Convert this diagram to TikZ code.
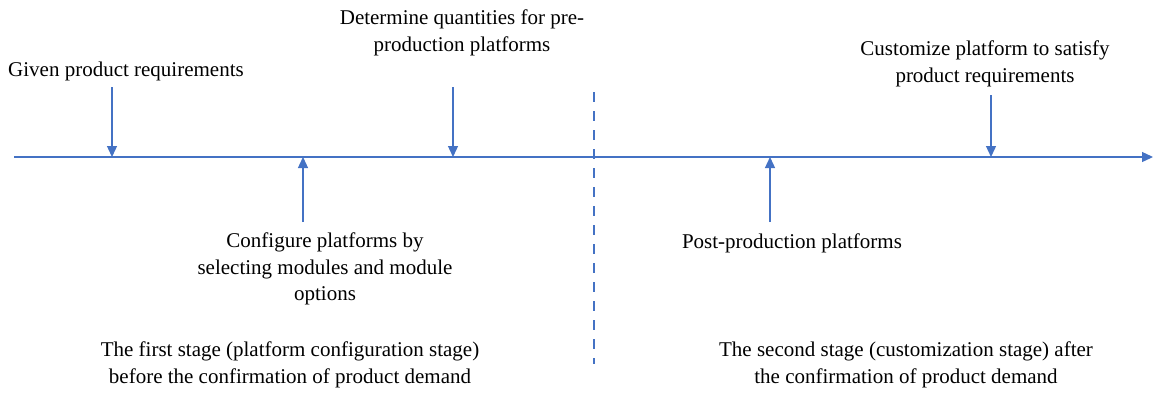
\documentclass[tikz,border=0pt]{standalone}
\usepackage{fontspec}
\setmainfont{Liberation Serif}
\usetikzlibrary{arrows.meta}
\definecolor{lineblue}{HTML}{4472C4}
\begin{document}
\begin{tikzpicture}[x=1pt,y=-1pt,
  axisline/.style={draw=lineblue, line width=1.3pt, -{Triangle[length=11pt,width=10pt]}},
  marker/.style={draw=lineblue, line width=1.3pt, -{Triangle[length=11pt,width=10pt]}},
  divider/.style={draw=lineblue, line width=2.6pt, dash pattern=on 10pt off 9pt},
  label/.style={font=\fontsize{21}{26.5}\selectfont, align=center, inner sep=0pt, text=black}]
\useasboundingbox (0,0) rectangle (1155,392);

% timeline
\coordinate (t0) at (14,157);
\coordinate (t1) at (1153,157);
\draw[axisline] (t0) -- (t1);

% stage divider
\coordinate (d0) at (594,92);
\coordinate (d1) at (594,364);
\draw[divider] (d0) -- (d1);

% event markers
\coordinate (m1s) at (112,87);  \coordinate (m1) at (112,157);
\coordinate (m2s) at (303,222); \coordinate (m2) at (303,157);
\coordinate (m3s) at (453,87);  \coordinate (m3) at (453,157);
\coordinate (m4s) at (770,222); \coordinate (m4) at (770,157);
\coordinate (m5s) at (991,95);  \coordinate (m5) at (991,157);
\draw[marker] (m1s) -- (m1);
\draw[marker] (m2s) -- (m2);
\draw[marker] (m3s) -- (m3);
\draw[marker] (m4s) -- (m4);
\draw[marker] (m5s) -- (m5);

% labels
\node[label, anchor=west] (given) at (8,71) {Given product requirements};
\node[label] (config) at (325,269) {Configure platforms by\\selecting modules and module\\options};
\node[label] (determine) at (462,33) {Determine quantities for pre-\\production platforms};
\node[label] (post) at (792,243) {Post-production platforms};
\node[label] (custom) at (985,64) {Customize platform to satisfy\\product requirements};
\node[label] (stage1) at (290,365) {The first stage (platform configuration stage)\\before the confirmation of product demand};
\node[label] (stage2) at (906,365) {The second stage (customization stage) after\\the confirmation of product demand};
\end{tikzpicture}
\end{document}
